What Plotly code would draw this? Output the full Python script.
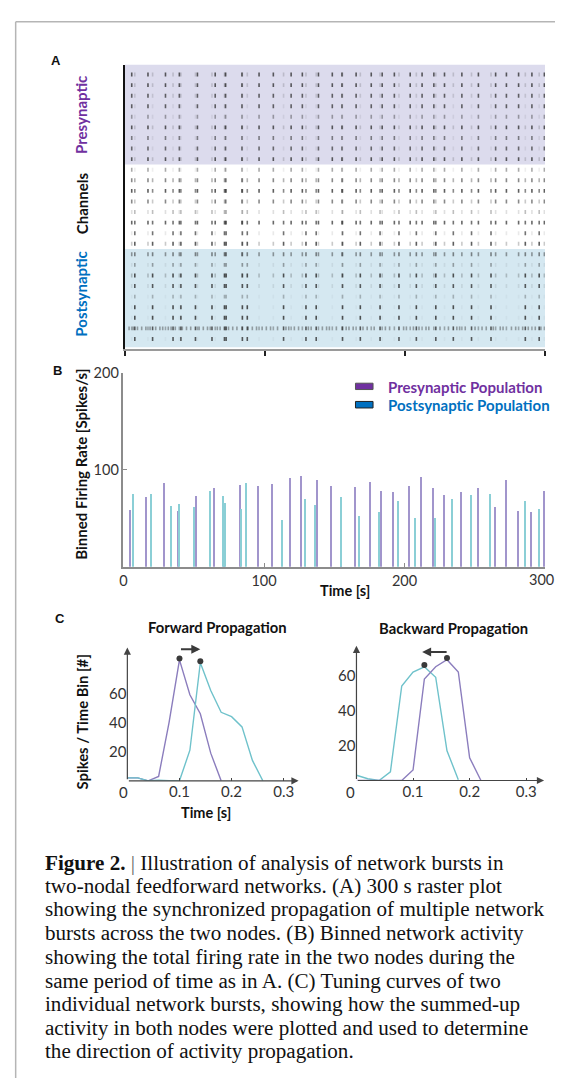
import plotly.graph_objects as go

# the page body keeps an 8px margin, so the figure is drawn 8px in from the page edge
PAGE_W, PAGE_H = 563, 1086
OFF = 8
W, H = PAGE_W - 2 * OFF, PAGE_H - 2 * OFF


def X(px):
    return (px - OFF) / W


def Y(py):
    return 1 - (py - OFF) / H


# ---------------- data ----------------
# burst peak times [s] and binned firing rate peaks [spikes/s] (panel B)
pre_burst_t = [4.9, 16.5, 29.0, 38.9, 51.8, 64.5, 71.8, 83.6, 95.8, 106.0, 118.7, 126.7,
               138.2, 148.1, 155.0, 165.1, 175.9, 183.7, 192.4, 203.7, 212.2, 220.6,
               228.2, 240.6, 252.4, 264.7, 272.4, 281.1, 290.6, 299.5]
pre_burst_h = [59, 72, 87, 58, 73, 81, 48, 85, 83, 86, 92, 94,
               90, 83, 71, 82, 88, 78, 77, 83, 93, 81,
               74, 77, 81, 62, 90, 58, 57, 78]
post_burst_t = [7.1, 19.8, 34.4, 40.0, 50.4, 62.2, 71.1, 72.3, 83.9, 87.4, 113.3, 129.3,
                136.6, 155.4, 168.1, 182.2, 195.7, 208.1, 222.0, 234.5, 247.5, 261.4,
                285.9, 295.8]
post_burst_h = [75, 75, 63, 65, 62, 78, 73, 66, 60, 87, 48, 70,
                64, 72, 53, 57, 68, 50, 50, 70, 74, 75,
                68, 60]
time_ticks = [0, 100, 200, 300]

# raster: per-channel participation strength in presynaptic / postsynaptic bursts
row_pre_alpha = [0.75, 0.75, 0.70, 0.70, 0.40, 0.75, 0.55, 0.65, 0.75,
                 0.40, 0.55, 0.75, 0.55, 0.15, 0.70, 0.10, 0.25,
                 0.45, 0.08, 0.25, 0.10, 0.04, 0.04, 0.04, 0.35, 0.04]
row_post_alpha = [0.18, 0.18, 0.15, 0.08, 0.08, 0.18, 0.08, 0.08, 0.18,
                  0.08, 0.35, 0.55, 0.25, 0.30, 0.65, 0.65, 0.75,
                  0.55, 0.40, 0.80, 0.75, 0.30, 0.80, 0.80, 0.75, 0.75]
noisy_row = 25
noisy_extra_t = [3, 6, 9, 12, 15, 18, 22, 25, 27, 31, 33, 36, 41, 44, 47, 53, 56, 59, 61,
                 66, 68, 74, 77, 80, 88, 91, 94, 98, 101, 104, 109, 115, 117, 121, 124,
                 131, 133, 141, 144, 146, 151, 158, 160, 163, 170, 173, 178, 186, 189,
                 199, 201, 206, 210, 215, 217, 225, 231, 237, 239, 243, 250, 255, 258,
                 263, 268, 270, 276, 279, 284, 288, 293, 297]

# panel C tuning curves
fwd_t = [0.00, 0.02, 0.04, 0.06, 0.08, 0.10, 0.12, 0.14, 0.16, 0.18, 0.20, 0.22, 0.24, 0.26]
fwd_pre = [2, 2, 0, 3, 40, 83, 59, 46, 19, 0]
fwd_post = [2, 2, 0, 0.5, 0, 0, 21, 81, 62, 47, 44, 37, 14, 0]
bwd_t = [0.00, 0.02, 0.04, 0.06, 0.08, 0.10, 0.12, 0.14, 0.16, 0.18, 0.20, 0.22]
bwd_pre = [0, 0, 0, 0, 0, 6, 58, 65, 69, 62, 13, 0]
bwd_post = [3, 1, 0, 5, 54, 62, 65, 59, 17, 0.5]

# ---------------- styles ----------------
PURPLE_TXT = "#7030a0"
BLUE_TXT = "#0070c0"
PRE_LINE = "#8b7dbd"
POST_LINE = "#6fc2cb"
PRE_BAR = "#a195cc"
POST_BAR = "#8bcfd6"
FONT = "Lato"

fig = go.Figure()

# ---- panel A raster ----
rx, ry, rc = [], [], []
for r in range(26):
    a = row_pre_alpha[r]
    for t in pre_burst_t:
        rx.append(t); ry.append(r + 1); rc.append(f"rgba(40,40,40,{a})")
    a = row_post_alpha[r]
    for t in post_burst_t:
        rx.append(t); ry.append(r + 1); rc.append(f"rgba(40,40,40,{a})")
for t in noisy_extra_t:
    rx.append(t); ry.append(noisy_row); rc.append("rgba(40,40,40,0.4)")

fig.add_trace(go.Scatter(
    x=rx, y=ry, mode="markers", xaxis="x", yaxis="y", hoverinfo="skip",
    marker=dict(symbol="line-ns", size=2.8, color=rc, line=dict(width=1.6, color=rc)),
    showlegend=False))

# ---- panel B bars ----
fig.add_trace(go.Bar(x=pre_burst_t, y=pre_burst_h, width=0.8, xaxis="x2", yaxis="y2",
                     marker=dict(color=PRE_BAR, line=dict(width=0)), showlegend=False))
fig.add_trace(go.Bar(x=post_burst_t, y=post_burst_h, width=0.8, xaxis="x2", yaxis="y2",
                     marker=dict(color=POST_BAR, line=dict(width=0)), showlegend=False))


# ---- panel C curves ----
def add_curve(t, v, color, xa, ya):
    fig.add_trace(go.Scatter(x=t[:len(v)], y=v, mode="lines", xaxis=xa, yaxis=ya,
                             line=dict(color=color, width=1.4), showlegend=False))


def add_peak(t, v, xa, ya):
    i = max(range(len(v)), key=lambda k: v[k])
    fig.add_trace(go.Scatter(x=[t[i]], y=[v[i] + 1], mode="markers", xaxis=xa, yaxis=ya,
                             marker=dict(color="#3a3a3a", size=6), showlegend=False))


add_curve(fwd_t, fwd_pre, PRE_LINE, "x3", "y3")
add_curve(fwd_t, fwd_post, POST_LINE, "x3", "y3")
add_peak(fwd_t, fwd_pre, "x3", "y3")
add_peak(fwd_t, fwd_post, "x3", "y3")
add_curve(bwd_t, bwd_post, POST_LINE, "x4", "y4")
add_curve(bwd_t, bwd_pre, PRE_LINE, "x4", "y4")
add_peak(bwd_t, bwd_post, "x4", "y4")
add_peak(bwd_t, bwd_pre, "x4", "y4")

noax = dict(showgrid=False, zeroline=False, fixedrange=True)

layout = dict(
    width=W, height=H, margin=dict(l=0, r=0, t=0, b=0),
    paper_bgcolor="white", plot_bgcolor="rgba(0,0,0,0)",
    font=dict(family=FONT, color="#222"), barmode="overlay", bargap=0,
    showlegend=False,
    # A
    xaxis=dict(domain=[X(121.7), X(545)], range=[0, 300], anchor="y",
               showline=True, linecolor="#9a9a9a", linewidth=2,
               ticks="outside", tickvals=time_ticks, ticklen=5, tickwidth=1.5,
               tickcolor="#222", showticklabels=False, **noax),
    yaxis=dict(domain=[Y(342.7), Y(56)], range=[26.94, 0.0625], anchor="x",
               showline=True, linecolor="#111", linewidth=1.5, showticklabels=False,
               ticks="", **noax),
    # B  (last label drawn right-aligned separately so it stays inside the page)
    xaxis2=dict(domain=[X(120.3), X(545)], range=[0, 300], anchor="y2",
                showline=True, linecolor="#8c8c8c", linewidth=1.5,
                ticks="inside", ticklen=4, tickcolor="#8c8c8c", tickwidth=1.2,
                tickvals=time_ticks, ticktext=[str(v) for v in time_ticks[:-1]] + [""],
                tickfont=dict(size=14.5, color="#333"), **noax),
    yaxis2=dict(domain=[Y(562.3), Y(366.7)], range=[0, 200], anchor="x2",
                showline=True, linecolor="#8c8c8c", linewidth=1.5,
                ticks="inside", ticklen=4, tickcolor="#8c8c8c", tickwidth=1.2,
                tickvals=[100, 200], tickfont=dict(size=14.5, color="#333"), **noax),
    # C left
    xaxis3=dict(domain=[X(124.2), X(124.2 + 0.33 * 525)], range=[0, 0.33], anchor="y3",
                showline=False, ticks="inside", ticklen=3, tickcolor="#444",
                tickvals=[0.1, 0.2, 0.3], ticktext=["0.1", "0.2", "0.3"],
                tickfont=dict(size=15, color="#333"), **noax),
    yaxis3=dict(domain=[Y(778.3), Y(778.3 - 93 * 1.47)], range=[0, 93], anchor="x3",
                showline=False, ticks="", tickvals=[20, 40, 60],
                tickfont=dict(size=15, color="#333"), **noax),
    # C right
    xaxis4=dict(domain=[X(355), X(355 + 0.335 * 570)], range=[0, 0.335], anchor="y4",
                showline=False, ticks="inside", ticklen=3, tickcolor="#444",
                tickvals=[0.1, 0.2, 0.3], ticktext=["0.1", "0.2", "0.3"],
                ticklabeloverflow="allow",
                tickfont=dict(size=15, color="#333"), **noax),
    yaxis4=dict(domain=[Y(778), Y(778 - 80 * 1.765)], range=[0, 80], anchor="x4",
                showline=False, ticks="", tickvals=[20, 40, 60],
                tickfont=dict(size=15, color="#333"), **noax),
)
fig.update_layout(**layout)

shapes = [
    # page frame
    dict(type="line", xref="paper", yref="paper", x0=X(11.7), x1=1, y0=Y(12.7), y1=Y(12.7),
         line=dict(color="#b5b5b5", width=1.5)),
    dict(type="line", xref="paper", yref="paper", x0=X(11.7), x1=X(11.7), y0=Y(12.7), y1=0,
         line=dict(color="#b5b5b5", width=1.5)),
    # raster backgrounds
    dict(type="rect", xref="x", yref="y", x0=0, x1=300, y0=0.0625, y1=9.5, layer="below",
         fillcolor="#dcdbed", line=dict(width=0)),
    dict(type="rect", xref="x", yref="y", x0=0, x1=300, y0=17.5, y1=26.78, layer="below",
         fillcolor="#d5e8f1", line=dict(width=0)),
    # legend swatches
    dict(type="rect", xref="paper", yref="paper", x0=X(354), x1=X(371.7), y0=Y(383.7), y1=Y(377.3),
         fillcolor="#7030a0", line=dict(color="#555", width=1)),
    dict(type="rect", xref="paper", yref="paper", x0=X(354), x1=X(371.7), y0=Y(402.3), y1=Y(395.7),
         fillcolor="#0070c0", line=dict(color="#222", width=1)),
]
fig.update_layout(shapes=shapes)

ann = []


def text(px, py, s, size=14, color="#111", bold=True, angle=0, xanchor="center", family=FONT):
    ann.append(dict(x=X(px), y=Y(py), xref="paper", yref="paper", showarrow=False,
                    text=f"<b>{s}</b>" if bold else s, textangle=angle, xanchor=xanchor,
                    yanchor="middle", font=dict(size=size, color=color, family=family)))


def arrow(xa, ya, x0, y0, x1, y1, width=1.2, size=1.2, color="#444"):
    ann.append(dict(x=x1, y=y1, ax=x0, ay=y0, xref=xa, yref=ya, axref=xa, ayref=ya,
                    showarrow=True, arrowhead=2, arrowsize=size, arrowwidth=width,
                    arrowcolor=color, text="", standoff=0, startstandoff=0))


# panel letters
text(52, 52, "A", size=13, family="Liberation Sans")
text(54, 365, "B", size=13, family="Liberation Sans")
text(56, 615, "C", size=13, family="Liberation Sans")

# panel A side labels
text(78, 106.3, "Presynaptic", size=15, color=PURPLE_TXT, angle=-90)
text(78, 195.3, "Channels", size=15, color="#111", angle=-90)
text(78, 287.5, "Postsynaptic", size=15, color=BLUE_TXT, angle=-90)

# panel B labels
text(78, 459, "Binned Firing Rate [Spikes/s]", size=15, angle=-90)
text(343, 586, "Time [s]", size=14.5)
text(385, 381, "Presynaptic Population", size=15, color=PURPLE_TXT, xanchor="left")
text(385, 399.7, "Postsynaptic Population", size=15, color=BLUE_TXT, xanchor="left")
# last time tick label of panel B, kept inside the page edge
ann.append(dict(x=time_ticks[-1], y=0, xref="x2", yref="y2", showarrow=False,
                text=str(time_ticks[-1]), xanchor="right", yanchor="top", xshift=11, yshift=-2,
                font=dict(size=14.5, color="#333", family=FONT)))

# panel C labels
text(215.5, 623, "Forward Propagation", size=14.8)
text(452.5, 624, "Backward Propagation", size=14.8)
text(79, 719, "Spikes / Time Bin [#]", size=14.8, angle=-90)
text(203, 810, "Time [s]", size=14.5)
text(120, 790, "0", size=15, color="#333", bold=False)
text(349, 790, "0", size=15, color="#333", bold=False)

# panel C axes with arrowheads
arrow("x3", "y3", 0, 0, 0, 91.4)
arrow("x3", "y3", 0, 0, 0.3286, 0)
arrow("x4", "y4", 0, 0, 0, 77)
arrow("x4", "y4", 0, 0, 0.3316, 0)
# propagation direction arrows
arrow("x3", "y3", 0.10, 90.2, 0.14, 90.2, width=2, size=0.9, color="#3a3a3a")
arrow("x4", "y4", 0.162, 73.5, 0.116, 73.5, width=2, size=0.9, color="#3a3a3a")

# caption
caption_lines = [
    "<b>Figure 2.</b> <span style='color:#666'>|</span> Illustration of analysis of network bursts in",
    "two-nodal feedforward networks. (A) 300 s raster plot",
    "showing the synchronized propagation of multiple network",
    "bursts across the two nodes. (B) Binned network activity",
    "showing the total firing rate in the two nodes during the",
    "same period of time as in A. (C) Tuning curves of two",
    "individual network bursts, showing how the summed-up",
    "activity in both nodes were plotted and used to determine",
    "the direction of activity propagation.",
]
cap_y = [861.7, 885, 909, 932.7, 956.7, 980.7, 1004, 1028.3, 1051.7]
for line, cy in zip(caption_lines, cap_y):
    ann.append(dict(x=X(39), y=Y(cy - 1), xref="paper", yref="paper", showarrow=False,
                    text=line, xanchor="left", yanchor="middle",
                    font=dict(size=21.1, color="#111", family="Liberation Serif")))

fig.update_layout(annotations=ann)

fig.write_html("out.html", config={"displayModeBar": False})
